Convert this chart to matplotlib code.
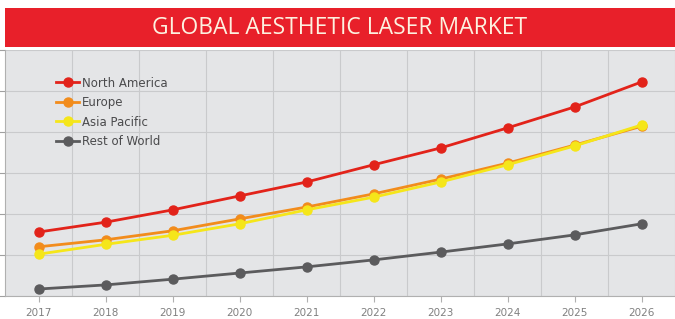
import numpy as np
import matplotlib.pyplot as plt
from matplotlib.patches import Rectangle

# data (units = grid steps)
years = [2017, 2018, 2019, 2020, 2021, 2022, 2023, 2024, 2025, 2026]
north_america = [1.56, 1.80, 2.10, 2.44, 2.78, 3.20, 3.61, 4.10, 4.61, 5.22]
europe = [1.20, 1.37, 1.59, 1.88, 2.17, 2.49, 2.85, 3.24, 3.68, 4.14]
asia_pacific = [1.02, 1.26, 1.48, 1.76, 2.10, 2.41, 2.78, 3.20, 3.66, 4.17]
rest_of_world = [0.17, 0.27, 0.41, 0.56, 0.71, 0.88, 1.07, 1.27, 1.49, 1.76]

series = [("North America", north_america, "#e2231a"),
          ("Europe", europe, "#f28c1c"),
          ("Asia Pacific", asia_pacific, "#f5e61a"),
          ("Rest of World", rest_of_world, "#5b5b5d")]

fig = plt.figure(figsize=(6.75, 3.19), dpi=100)
fig.patch.set_facecolor("white")

# title banner
fig.patches.append(Rectangle((5/675, 1-47/319), 670/675, 39/319, transform=fig.transFigure,
                             facecolor="#e8202a", edgecolor="none"))
fig.text(340/675, 1-28/319, "GLOBAL AESTHETIC LASER MARKET", ha="center", va="center",
         color="#fdf1e0", fontsize=16.5, family="Open Sans")

ax = fig.add_axes([5/675, 23/319, 670/675, 246/319])
ax.set_facecolor("#e4e5e7")

x = np.arange(len(years))
for name, vals, col in series:
    ax.plot(x, vals, color=col, lw=2, marker="o", ms=6.5, label=name)

ax.set_xlim(-0.5, len(years) - 0.5)
ax.set_ylim(0, 6)
ax.set_xticks(x)
ax.set_xticklabels([str(y) for y in years], color="#808080", fontsize=7.5)
ax.set_xticks(np.arange(len(years)) + 0.5, minor=True)
ax.set_yticks(np.arange(0, 7))
ax.set_yticklabels([])
ax.tick_params(axis="x", which="major", length=4, color="#b0b0b0", pad=5)
ax.tick_params(axis="x", which="minor", length=0)
ax.tick_params(axis="y", length=5, color="#a0a0a0")
ax.grid(True, axis="y", color="#c9cacc", lw=0.8)
ax.grid(True, axis="x", which="minor", color="#c9cacc", lw=0.8)
ax.set_axisbelow(True)
for s in ["top", "right"]:
    ax.spines[s].set_visible(False)
ax.spines["left"].set_color("#b0b0b0")
ax.spines["bottom"].set_color("#b0b0b0")

leg = ax.legend(loc="upper left", bbox_to_anchor=(0.06, 0.935), frameon=False,
                fontsize=8.5, handlelength=2, handletextpad=0.2, labelspacing=0.55)
for t in leg.get_texts():
    t.set_color("#4a4a4c")

fig.savefig("out.png", dpi=100)
